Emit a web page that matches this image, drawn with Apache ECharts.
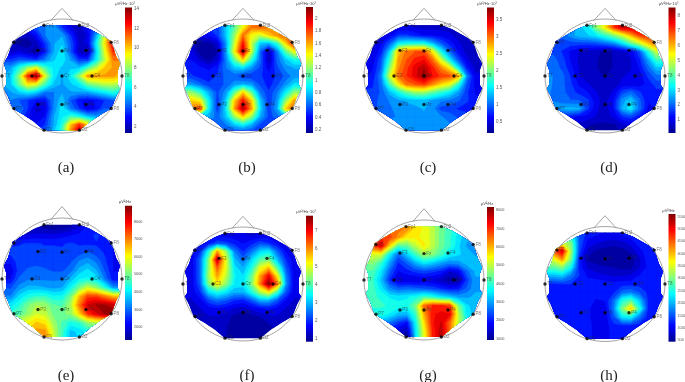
<!DOCTYPE html>
<html><head><meta charset="utf-8">
<style>html,body{margin:0;padding:0;background:#fff}#c{width:685px;height:382px}</style>
<script src="https://cdn.jsdelivr.net/npm/echarts@6/dist/echarts.min.js"></script>
</head><body><div id="c"></div>
<script>
// Electrodes in head units
const electrodes=[['Fp1',-.30,.89],['Fp2',.29,.89],['F7',-.80,.59],['F3',-.40,.45],['Fz',0,.44],['F4',.40,.45],['F8',.82,.59],
['T7',-1,0],['C3',-.50,0],['Cz',0,0],['C4',.50,0],['T8',1,0],['P7',-.80,-.57],['P3',-.40,-.50],['Pz',0,-.50],['P4',.40,-.50],['P8',.82,-.57],['O1',-.30,-.95],['O2',.29,-.95]];
const outline=[[-.30,.89],[.29,.89],[.47,.82],[.64,.72],[.82,.61],[.90,.35],[.97,.22],[.93,.10],[.93,-.16],[.97,-.22],[.90,-.36],[.82,-.57],[.64,-.68],[.47,-.80],[.29,-.95],[-.30,-.95],[-.47,-.80],[-.64,-.68],[-.82,-.57],[-.90,-.36],[-.97,-.22],[-.93,-.16],[-.93,.10],[-.97,.22],[-.90,.35],[-.82,.61],[-.64,.72],[-.47,.82]];
const nose=[[-.19,.97],[0,1.187],[.19,.97]];
const captions=['(a)','(b)','(c)','(d)','(e)','(f)','(g)','(h)'];
const unitsA='μV²/Hz·10³', unitsB='μV²/Hz';
const units=[unitsA,unitsA,unitsA,unitsA,unitsB,unitsA,unitsB,unitsB];
const ranges=[[1.35,14.15],[.15,2.19],[.155,3.87],[.13,8.56],[1260,8910],[.85,7.81],[930,8180],[445,5600]];
const ticksA=[2,4,6,8,10,12,14];
const ticksB=[.2,.4,.6,.8,1,1.2,1.4,1.6,1.8,2];
const ticksC=[.5,1,1.5,2,2.5,3,3.5];
const ticksD=[1,2,3,4,5,6,7,8];
const ticksE=[2000,3000,4000,5000,6000,7000,8000];
const ticksF=[1,2,3,4,5,6,7];
const ticksG=[1000,2000,3000,4000,5000,6000,7000,8000];
const ticksH=[500,1000,1500,2000,2500,3000,3500,4000,4500,5000,5500];
const scales=[1,1,1,1,1000,1,1000,1000];

const gridA=[
[3,3,3,3.5,4,4.5,5,3.5,2.5,2,3,4,5,8,11],
[3,3,3,3.5,4,4.5,5,3.5,2.5,2,3,4,5,8,11],
[2,2,2,2,3,4.5,5,5,3.5,2,2.5,5,9,13,14],
[2,2,1.6,1.7,2,3.5,5,5.5,4,2.3,2.5,6,9.5,13,14],
[2.2,2.2,2.5,2,1.5,3.2,5,6,4,2,1.7,5.5,9,12,12],
[3.5,3.5,4,3.8,3.5,4.5,5.5,6,5,3.5,3.5,6,8.5,11,11],
[5,5,6.5,8,9,7,6,5.5,5.5,5.5,7,8.5,10,10.5,10.5],
[5,5.5,8,12,13.8,9,6,5,6,8,10.5,10.5,10.5,10.5,10],
[5,5.5,7.5,9.5,9,7,5.5,5,5.5,6,7.5,8,8.5,8.5,8],
[4,5,5.5,6,5.5,4.5,4.5,5,5,5,5,5.5,6,6.5,6],
[4.5,4.5,4,3.5,3,3,4.5,5.5,4,3,2.8,3,3.5,4,4],
[4.5,4.5,4.5,3.5,2.2,2.5,4.5,6,4.5,3.5,2.5,3,4,4,4],
[4,4,4,3,2.5,3,5,6,7,6.5,5.5,5,5,5,5],
[3.5,3.5,3.5,3.5,3,3.5,5,6.5,10,12,10,8,7,7,7],
[3.5,3.5,3.5,3.5,3.5,4,5.5,7,11,14,11,9,8,8,8]];
const gridB=[
[.5,.5,.5,.5,.5,.8,1.1,1.4,1.7,1.75,1.7,1.7,1.8,1.9,1.9],
[.5,.5,.5,.5,.5,.8,1.1,1.4,1.7,1.75,1.7,1.7,1.8,1.9,1.9],
[.35,.35,.35,.4,.5,.8,1.2,1.7,1.4,1.3,1.5,1.65,1.75,1.9,1.9],
[.25,.25,.2,.2,.3,.7,1.3,1.9,1.3,.8,.75,1,1.5,1.9,1.9],
[.35,.35,.18,.18,.22,.7,1.4,2.05,1.3,.6,.25,.65,1.1,1.4,1.4],
[.4,.4,.3,.2,.3,.65,1.1,1.5,1,.6,.25,.6,.8,.95,.95],
[.5,.45,.42,.38,.45,.65,.8,.85,.7,.55,.35,.55,.7,.75,.75],
[.5,.5,.45,.45,.5,.6,.6,.5,.5,.5,.45,.5,.6,.7,.7],
[.7,.7,.6,.5,.5,.6,.7,.75,.7,.55,.45,.55,.7,.85,.85],
[1.2,1.2,1,.75,.55,.7,1.1,1.5,1.1,.65,.5,.65,.9,1.2,1.2],
[1.5,1.5,1.4,.9,.5,.8,1.5,1.9,1.5,.8,.5,.7,1.2,1.6,1.6],
[1.7,1.7,1.8,.9,.5,.85,1.6,2.1,1.6,.85,.5,.75,1.5,1.8,1.8],
[.9,.9,.9,.75,.6,.8,1.2,1.5,1.2,.75,.55,.6,.8,.8,.8],
[.6,.6,.6,.6,.65,.65,.8,.9,.75,.55,.5,.5,.5,.5,.5],
[.5,.5,.5,.5,.5,.5,.5,.5,.5,.5,.5,.5,.5,.5,.5]];
const gridC=[
[.4,.4,.4,.4,.45,.5,.45,.4,.4,.4,.4,.4,.4,.4,.4],
[.4,.4,.4,.4,.45,.5,.45,.4,.4,.4,.4,.4,.4,.4,.4],
[.4,.4,.4,.55,.8,.8,.7,.6,.6,.55,.5,.4,.35,.3,.3],
[.4,.4,.6,.95,1.5,1.6,1.6,1.6,1.3,.95,.7,.5,.35,.3,.3],
[.45,.45,.7,1.4,2.7,3,3.1,3.1,2.5,1.6,1,.6,.4,.3,.3],
[.5,.5,.9,1.7,2.8,3.1,3.3,3.4,3,2.3,1.5,.9,.5,.35,.35],
[.55,.6,.95,2,2.9,3.2,3.5,3.7,3.3,2.9,2.5,1.5,.7,.4,.4],
[.6,.65,1.1,2.3,3,3.25,3.5,3.8,3.4,3.2,3.1,2.8,1.1,.5,.5],
[.7,.75,1,1.8,2.5,3,3.1,3.2,2.9,2.6,2.4,1.7,.9,.55,.55],
[.8,.8,.95,1.3,1.6,1.9,2.1,2.1,1.9,1.7,1.5,1.2,.8,.6,.6],
[.9,.9,.95,1.1,1.2,1.25,1.3,1.3,1.2,1.1,1.05,.95,.8,.65,.65],
[.9,.9,.95,1.05,1.15,1.2,1.2,1.25,1.15,.85,.85,.75,.7,.65,.65],
[1,1,1,1.05,1.1,1.2,1.2,1.2,1.15,1.1,1,.9,.85,.8,.8],
[1.1,1.1,1.1,1.15,1.2,1.2,1.2,1.2,1.2,1.2,1.1,1,.95,.9,.9],
[1.2,1.2,1.2,1.2,1.2,1.2,1.2,1.2,1.2,1.2,1.1,1.1,1.1,1.1,1.1]];
const gridD=[
[2,2,2,2.2,2.8,3.2,4.5,5.5,7,8,8,8,8,8,8],
[2,2,2,2.2,2.8,3.2,4.5,5.5,7,8,8,8,8,8,8],
[2,2,2,2.4,2.8,2.9,3.2,3.7,4.3,5,6,7,7.3,7.5,7.5],
[1.8,1.8,1.7,1.7,1.7,1.7,1.8,2,2.3,3,4,4.8,5.8,6.5,6.5],
[1.8,1.8,1.5,1.1,.8,.7,.55,.4,.5,.7,.95,1.8,3.5,5,5],
[2,2,1.7,1.1,.75,.6,.5,.35,.5,.6,.8,1.4,2.5,3.8,3.8],
[2.2,2.1,1.8,1.3,.8,.65,.5,.35,.5,.6,.8,1.2,2,2.8,2.8],
[2.5,2.2,2,1.5,.85,.7,.55,.45,.6,.8,.9,.95,1.6,2.1,2.1],
[2.4,2.2,2,1.6,1.1,.85,.7,.55,.7,.9,.95,.95,1.3,1.7,1.7],
[2.3,2.2,2,1.7,1.4,1.2,.85,.6,.9,1.7,2,1.6,1.2,1.4,1.4],
[2.3,2.2,2,1.9,1.9,1.6,.95,.65,1.2,2.4,2.9,2,1.2,1.3,1.3],
[2.5,2.5,2.6,2.7,2.6,1.6,.9,.6,1.2,2.6,3.2,2.1,1.1,1.2,1.2],
[1.5,1.5,1.4,1.3,1.1,1,.8,.65,.9,1.5,1.7,1.3,1,1,1],
[.8,.8,.8,.8,.7,.5,.4,.4,.4,.7,.9,.9,.9,.9,.9],
[.5,.5,.5,.5,.5,.4,.35,.35,.35,.5,.6,.6,.6,.6,.6]];
const gridE=[
[1.6,1.6,1.6,1.6,1.6,1.4,1.3,1.3,1.5,1.9,2.3,2.3,2.3,2.3,2.3],
[1.6,1.6,1.6,1.6,1.6,1.4,1.3,1.3,1.5,1.9,2.3,2.3,2.3,2.3,2.3],
[1.9,1.9,1.9,1.9,2,2,2,2.1,2.2,2.3,2.4,2.6,2.4,2.4,2.4],
[2.5,2.5,2.5,2.6,2.6,2.5,2.5,2.5,2.6,2.5,2.5,2.5,2.4,2.3,2.3],
[2.6,2.6,2.7,2.7,2.7,2.7,2.7,2.6,2.6,2.7,2.9,2.7,2.5,2.2,2.2],
[2.3,2.3,2.7,2.7,2.7,2.7,2.75,2.7,2.8,3.2,3.4,3.1,2.6,2.2,2.2],
[1.9,1.9,2.7,2.9,3,2.9,2.8,2.8,3,3.6,3.9,3.5,2.8,2.2,2.2],
[2.2,2.2,2.9,3.1,3.1,3.1,3.1,3.1,3.6,4.1,4.2,4,3.1,2.3,2.3],
[2.8,2.8,3.3,3.6,3.6,3.5,3.4,3.5,4.2,5,5.7,5.2,4.4,3.3,3.3],
[3.2,3.2,3.9,4.3,4.5,4.5,4.2,4.2,5,6.5,7.5,7.5,7,6.5,6.5],
[4,4,4.4,5,5.4,5.3,4.8,4.7,5.4,7,8.3,8.6,8.6,8.4,8.4],
[4.5,4.5,4.7,5.2,5.7,5.6,5,5,5.2,6.3,7.6,8.2,8.6,8.9,8.9],
[5.5,5.5,5.8,6,6.4,6.2,5.3,4.7,4.3,4.5,5.2,5.5,5.5,5.5,5.5],
[6,6,6,6.4,6.8,6.8,5.6,4.6,3.7,3.9,4.3,4.5,4.5,4.5,4.5],
[6.5,6.5,6.5,6.8,7,7,5.7,4.5,3.6,3.8,4.2,4.4,4.4,4.4,4.4]];
const gridF=[
[1.6,1.6,1.6,1.6,1.6,1.6,1.5,1.45,1.4,1.45,1.5,1.5,1.5,1.5,1.5],
[1.6,1.6,1.6,1.6,1.6,1.6,1.5,1.45,1.4,1.45,1.5,1.5,1.5,1.5,1.5],
[1.5,1.5,1.5,1.8,2.2,2.1,1.9,1.7,1.9,2.2,2,1.7,1.5,1.5,1.5],
[1.5,1.5,2,3.6,5.8,4.5,2.6,2,2.5,3.2,3.4,2.4,1.7,1.5,1.5],
[1.5,1.5,2.4,4.3,7.3,5,3,2.4,3.2,4,4.3,3,2,1.5,1.5],
[1.5,1.5,2.4,4.4,6.3,5,3.3,2.9,3.6,5,5.6,4,2.3,1.5,1.5],
[1.5,1.5,2.4,4.6,5.8,4.8,3.5,3.2,4.1,5.8,7,5.2,2.6,1.5,1.5],
[1.5,1.5,2.3,4.3,5.3,4.4,3.4,3.3,4.3,6,7.8,6.1,2.7,1.5,1.5],
[1.5,1.5,2,3.2,3.6,3.3,2.9,2.9,3.6,4.6,5.2,3.8,2.3,1.5,1.5],
[1.4,1.4,1.6,2.2,2.5,2.3,2,1.9,2.3,2.9,2.9,2.3,1.7,1.4,1.4],
[1.3,1.3,1.4,1.6,1.7,1.6,1.4,1.3,1.5,1.7,1.8,1.6,1.4,1.3,1.3],
[1.3,1.3,1.3,1.4,1.4,1.3,1.05,.9,1,1.15,1.3,1.4,1.3,1.3,1.3],
[1.3,1.3,1.3,1.35,1.35,1.2,.9,.85,.85,.9,1.1,1.3,1.3,1.3,1.3],
[1.3,1.3,1.3,1.3,1.3,1.15,.9,.85,.85,.85,.95,1.15,1.2,1.2,1.2],
[1.3,1.3,1.3,1.3,1.3,1.15,.9,.85,.85,.85,.95,1.15,1.2,1.2,1.2]];
const gridG=[
[6.5,6.5,6.5,6.5,6.5,6.3,5.6,5.4,5,4.4,4.1,3.6,3.6,3.6,3.6],
[6.5,6.5,6.5,6.5,6.5,6.3,5.6,5.4,5,4.4,4.1,3.6,3.6,3.6,3.6],
[7,7,7,6.8,6.2,5.5,5.5,5.4,5,4.4,4,3.5,3.1,3,3],
[6.8,6.8,7.5,5.7,4.2,4.3,5,5.5,5,4.4,4,3.4,3,2.8,2.8],
[5.2,5.2,5.2,3.6,2.6,3.3,4.1,4.8,4.6,4.1,3.6,3.4,3.2,3,3],
[4.6,4.6,4,3,2.1,2.5,3.1,3.5,3.3,3,2.8,2.9,3.2,3.2,3.2],
[4.2,4.2,3.5,2.5,1.8,2,2.2,2.3,2.2,2,1.5,1.7,2.6,3.1,3.1],
[4,4,3.2,2.1,1.5,1.5,1.5,1.6,1.5,1.3,1.05,1.1,2.2,3,3],
[4.1,4.1,3.5,2.8,2.5,2.6,2.5,2.4,2.3,2.1,1.9,2,2.5,3,3],
[4,4,3.9,3.6,3.5,3.6,3.8,4.1,3.9,3.5,3.3,3,3,3.1,3.1],
[4,4,4,3.9,3.8,3.8,4.5,6.5,7,7,6.9,4.5,3.4,3.2,3.2],
[3.8,3.8,3.8,3.6,3.2,3.1,4,6,7.2,7.4,7.3,5,3.5,3.2,3.2],
[3,3,3,2.6,2.2,1.8,3.6,5.6,7.2,7.6,6.5,5,4,3.5,3.5],
[2,2,2,1.8,1.5,1.2,3.4,5.3,7,7.8,6.5,5,4,3.5,3.5],
[1.5,1.5,1.5,1.3,1.1,1,3.3,5.2,7,7.8,6.5,5,4,3.5,3.5]];
const gridH=[
[3,3,3,2.5,1.5,1.2,1.1,1.05,1.05,1.1,1.2,1.2,1.2,1.2,1.2],
[3,3,3,2.5,1.5,1.2,1.1,1.05,1.05,1.1,1.2,1.2,1.2,1.2,1.2],
[4,4,3.5,3,1.5,1,.9,.8,.75,.8,.95,1.2,1.2,1.2,1.2],
[4.5,4.5,5.1,3.2,1.4,.8,.6,.55,.5,.55,.7,1,1.2,1.2,1.2],
[3.5,3.5,4.2,3,1.2,.6,.5,.45,.45,.45,.5,.8,1.2,1.2,1.2],
[2.8,2.8,3,2.4,1.2,.85,.75,.7,.65,.6,.6,.85,1.15,1.2,1.2],
[2,2,2.1,1.7,1.3,1.05,.95,.9,.85,.85,.9,1.1,1.2,1.2,1.2],
[1.25,1.25,1.3,1.3,1.15,1.2,1.25,1.2,1.15,1.2,1.2,1.2,1.2,1.2,1.2],
[1.2,1.2,1.25,1.3,1.25,1.25,1.25,1.2,1.25,1.6,1.7,1.5,1.25,1.2,1.2],
[1.15,1.15,1.15,1.25,1.25,1.2,1.05,1.1,1.6,2.5,2.8,2.1,1.3,1.15,1.15],
[1.15,1.15,1.15,1.2,1.2,1.15,.9,.95,1.7,3,3.9,2.6,1.3,1.2,1.2],
[1.2,1.2,1.2,1.25,1.25,1.15,.9,.95,1.5,2.3,2.4,1.7,1.2,1.2,1.2],
[1.2,1.2,1.2,1.2,1.2,1.2,.95,.95,1.25,1.3,1.3,1.2,1.2,1.2,1.2],
[1.2,1.2,1.2,1.2,1.2,1.2,.95,.95,1.2,1.2,1.2,1.2,1.2,1.2,1.2],
[1.2,1.2,1.2,1.2,1.2,1.2,.95,.95,1.2,1.2,1.2,1.2,1.2,1.2,1.2]];
const grids=[gridA,gridB,gridC,gridD,gridE,gridF,gridG,gridH];
const ticks=[ticksA,ticksB,ticksC,ticksD,ticksE,ticksF,ticksG,ticksH];

// Layout of each panel: head centre, radii, colour bar box, caption x/y
const layout=[
{cx:62,cy:76,rx:60,ry:57,bx:125,bw:7,bt:7.5,bb:133,capx:66,capy:168},
{cx:243,cy:76,rx:60,ry:57,bx:306,bw:7,bt:7,bb:133,capx:247,capy:168},
{cx:424,cy:76,rx:60,ry:57,bx:487,bw:7,bt:7.5,bb:133,capx:428,capy:168},
{cx:605,cy:76,rx:60,ry:57,bx:668.5,bw:7,bt:7.5,bb:133,capx:609,capy:168},
{cx:62,cy:279,rx:60,ry:61,bx:125,bw:7,bt:205.7,bb:340,capx:66,capy:376},
{cx:243,cy:284,rx:60,ry:57,bx:306,bw:7,bt:215.7,bb:341.7,capx:247,capy:376},
{cx:424,cy:280,rx:60,ry:60,bx:487,bw:7,bt:207,bb:340,capx:428,capy:376},
{cx:605,cy:284,rx:60,ry:57.5,bx:668.5,bw:7,bt:214,bb:341.7,capx:609,capy:376}];

const jetStops=[[0,[0,0,143]],[.125,[0,0,255]],[.375,[0,255,255]],[.625,[255,255,0]],[.875,[255,0,0]],[1,[128,0,0]]];
function jet(t){t=Math.max(0,Math.min(1,t));for(let i=1;i<jetStops.length;i++){if(t<=jetStops[i][0]){const a=jetStops[i-1],b=jetStops[i],f=(t-a[0])/(b[0]-a[0]);
 return 'rgb('+a[1].map((c,k)=>Math.round(c+(b[1][k]-c)*f)).join(',')+')';}}return 'rgb(128,0,0)';}
const LEVELS=24;

function bandPolygon(pts,vals,L){ // part of a cell at or above level L
 const out=[];
 for(let i=0;i<4;i++){const j=(i+1)%4,a=vals[i],b=vals[j];
  if(a>=L)out.push(pts[i]);
  if((a>=L)!==(b>=L)){const f=(L-a)/(b-a);out.push([pts[i][0]+(pts[j][0]-pts[i][0])*f,pts[i][1]+(pts[j][1]-pts[i][1])*f]);}
 }
 return out;
}
const N=15;
function levelRenderer(p){
 const [lo,hi]=ranges[p],grid=grids[p],sc=scales[p],at=i=>-1+2*i/(N-1);
 return function(params,api){
  const k=api.value(0),L=lo+k*(hi-lo)/LEVELS,children=[],col=jet((k+.5)/LEVELS);
  const mask=outline.map(q=>api.coord(q));
  if(k===0)return {type:'polygon',shape:{points:mask},style:{fill:col},silent:true};
  for(let r=0;r<N-1;r++)for(let c=0;c<N-1;c++){
   const vals=[grid[r][c]*sc,grid[r][c+1]*sc,grid[r+1][c+1]*sc,grid[r+1][c]*sc];
   const pts=[api.coord([at(c),-at(r)]),api.coord([at(c+1),-at(r)]),api.coord([at(c+1),-at(r+1)]),api.coord([at(c),-at(r+1)])];
   const poly=bandPolygon(pts,vals,L);
   if(poly.length>=3)children.push({type:'polygon',shape:{points:poly},style:{fill:col,stroke:col,lineWidth:.5},silent:true});
  }
  return {type:'group',children,clipPath:{type:'polygon',shape:{points:mask}},silent:true};
 };
}

const option={animation:false,backgroundColor:'#fff',grid:[],xAxis:[],yAxis:[],series:[],graphic:[]};
const gradient={type:'linear',x:0,y:0,x2:0,y2:1,colorStops:[1,.875,.625,.375,.125,0].map(t=>({offset:1-t,color:jet(t)}))};
layout.forEach((g,p)=>{
 const gi=option.grid.length;
 option.grid.push({left:g.cx-g.rx,top:g.cy-g.ry,width:2*g.rx,height:2*g.ry,outerBoundsMode:'none'});
 option.xAxis.push({type:'value',gridIndex:gi,min:-1,max:1,show:false});
 option.yAxis.push({type:'value',gridIndex:gi,min:-1,max:1,show:false});
 const levels=[];for(let k=0;k<LEVELS;k++)levels.push([k,0]);
 option.series.push({type:'custom',xAxisIndex:gi,yAxisIndex:gi,clip:false,data:levels,encode:{x:1,y:1},renderItem:levelRenderer(p),silent:true,z:2});
 option.series.push({type:'custom',xAxisIndex:gi,yAxisIndex:gi,clip:false,data:[[0,0]],silent:true,z:3,
  renderItem:(pa,api)=>{const c=api.coord([0,0]),s=api.size([1,1]);
   return {type:'ellipse',shape:{cx:c[0],cy:c[1],rx:s[0],ry:s[1]},style:{fill:'none',stroke:'#9a9a9a',lineWidth:.9},silent:true};}});
 option.series.push({type:'line',xAxisIndex:gi,yAxisIndex:gi,clip:false,data:nose,symbol:'none',silent:true,z:3,
  lineStyle:{color:'#9a9a9a',width:.9}});
 option.series.push({type:'scatter',xAxisIndex:gi,yAxisIndex:gi,clip:false,silent:true,z:5,symbolSize:3.4,
  itemStyle:{color:'#000'},data:electrodes.map(e=>({name:e[0],value:[e[1],e[2]]})),
  label:{show:true,position:'right',distance:.5,formatter:'{b}',fontSize:4.5,color:'rgba(40,40,40,.8)',fontFamily:'Liberation Sans'}});
 // colour bar
 const bi=option.grid.length;
 option.grid.push({left:g.bx,top:g.bt,width:g.bw,height:g.bb-g.bt,outerBoundsMode:'none'});
 option.xAxis.push({type:'value',gridIndex:bi,min:0,max:1,show:false});
 option.yAxis.push({type:'value',gridIndex:bi,position:'right',min:ranges[p][0],max:ranges[p][1],
  name:units[p],nameLocation:'end',nameGap:1.5,nameTextStyle:{fontSize:4,color:'#444',fontFamily:'Liberation Sans'},
  splitLine:{show:false},axisLine:{show:false},axisTick:{show:false},
  axisLabel:{customValues:ticks[p],formatter:v=>String(v),fontSize:ticks[p][0]>=500?3.8:4.5,color:'#555',margin:2,fontFamily:'Liberation Sans'}});
 option.series.push({type:'custom',xAxisIndex:bi,yAxisIndex:bi,silent:true,clip:false,data:[[0,ranges[p][0],1,ranges[p][1]]],
  renderItem:(pa,api)=>{const a=api.coord([api.value(0),api.value(3)]),b=api.coord([api.value(2),api.value(1)]);
   return {type:'rect',shape:{x:a[0],y:a[1],width:b[0]-a[0],height:b[1]-a[1]},style:{fill:gradient},silent:true};}});
 option.graphic.push({type:'text',x:g.capx,y:g.capy,style:{text:captions[p],fill:'#222',font:'15px "Liberation Serif"',textAlign:'center',textVerticalAlign:'middle'},silent:true});
});
const chart=echarts.init(document.getElementById('c'),null,{renderer:'canvas',width:685,height:382});
chart.setOption(option);
</script></body></html>
